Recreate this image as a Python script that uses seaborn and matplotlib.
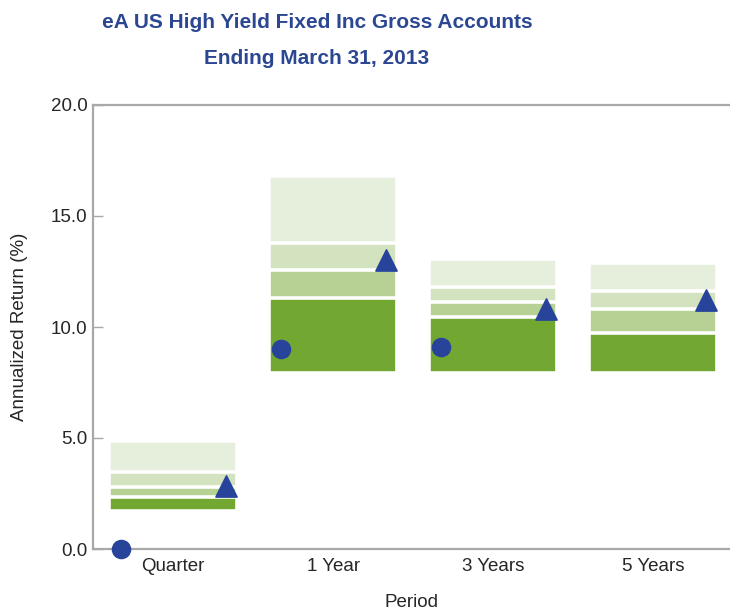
import numpy as np
import pandas as pd
import seaborn as sns
import matplotlib.pyplot as plt

# data
periods = ["Quarter", "1 Year", "3 Years", "5 Years"]
p05 = [4.85, 16.80, 13.06, 12.90]
p25 = [3.45, 13.80, 11.82, 11.63]
p50 = [2.80, 12.55, 11.14, 10.82]
p75 = [2.35, 11.30, 10.46, 9.71]
p95 = [1.73, 7.95, 7.94, 7.91]
triangle_vals = [2.84, 13.0, 10.8, 11.2]
circle_vals = [0.0, 9.0, 9.1, np.nan]

band_colors = ["#e6eedc", "#d3e3c0", "#b6d193", "#72a832"]
marker_color = "#27449a"
title_color = "#2c4792"

sns.set_style("white")
plt.rcParams["font.family"] = ["Liberation Sans", "DejaVu Sans"]

fig = plt.figure(figsize=(7.3, 6.11), dpi=100)
ax = fig.add_axes([93 / 730, 62 / 611, 1 - 93 / 730, 444 / 611])

df = pd.DataFrame({"period": periods, "p05": p05, "p25": p25,
                   "p50": p50, "p75": p75, "p95": p95})

# overlay bars from the top of the range downwards, white edges make the gaps
for col, c in zip(["p05", "p25", "p50", "p75"], band_colors):
    sns.barplot(data=df, x="period", y=col, color=c, width=0.8,
                edgecolor="white", linewidth=2.6, saturation=1, ax=ax)
sns.barplot(data=df, x="period", y="p95", color="white", width=0.84,
            edgecolor="white", linewidth=2.6, saturation=1, ax=ax)

pos = np.arange(len(periods))
sns.scatterplot(x=pos + 0.33, y=triangle_vals, marker="^", s=230,
                color=marker_color, edgecolor=marker_color, zorder=5,
                clip_on=False, ax=ax)
sns.scatterplot(x=pos - 0.325, y=circle_vals, marker="o", s=170,
                color=marker_color, edgecolor=marker_color, zorder=5,
                clip_on=False, ax=ax)

ax.set_xlim(-0.5, 3.48)
ax.set_ylim(0, 20)
ax.set_yticks([0, 5, 10, 15, 20])
ax.set_yticklabels(["0.0", "5.0", "10.0", "15.0", "20.0"])
ax.tick_params(axis="y", left=True, direction="in", length=7, width=1,
               color="#a8a8a8", labelsize=13.5, pad=4)
ax.tick_params(axis="x", bottom=False, labelsize=13.5, pad=3)
for s in ["left", "bottom", "top"]:
    ax.spines[s].set_color("#a8a8a8")
    ax.spines[s].set_linewidth(1.6)
ax.spines["right"].set_visible(False)

ax.set_xlabel("Period", fontsize=13.5, labelpad=14)
ax.set_ylabel("Annualized Return (%)", fontsize=13.5, labelpad=16)

fig.text(317 / 730, 1 - 22 / 611, "eA US High Yield Fixed Inc Gross Accounts",
         ha="center", va="center", fontsize=15, fontweight="bold", color=title_color)
fig.text(317 / 730, 1 - 58 / 611, "Ending March 31, 2013",
         ha="center", va="center", fontsize=15, fontweight="bold", color=title_color)

fig.savefig("out.png", dpi=100)
